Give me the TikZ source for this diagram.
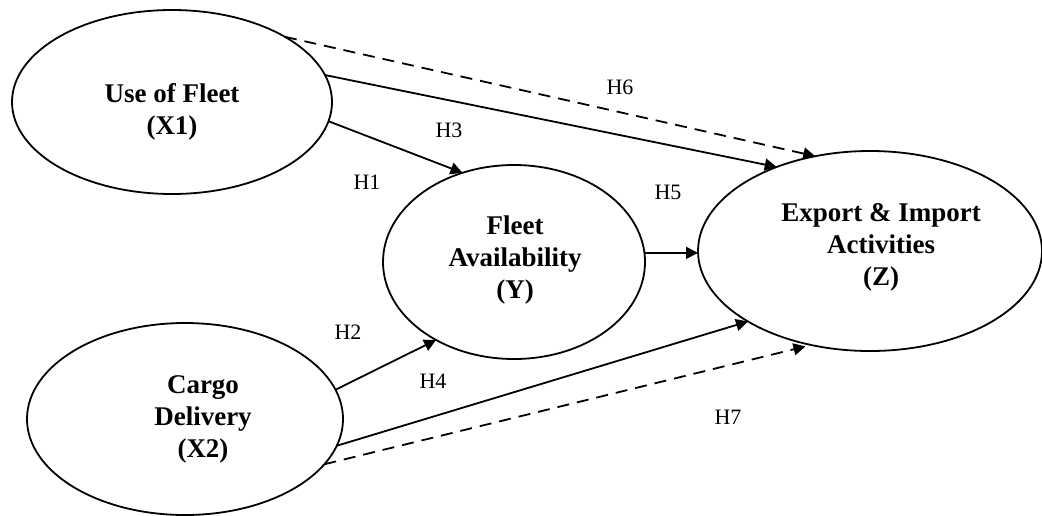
\documentclass[tikz,border=0pt]{standalone}
\usepackage{fontspec}
\setmainfont{Liberation Serif}
\usepackage{tikz}
\usetikzlibrary{positioning, calc, arrows.meta, shapes.geometric}
\definecolor{Ink}{HTML}{000000}
\definecolor{Paper}{HTML}{FFFFFF}
\tikzset{
    latent/.style={ellipse, draw=Ink, line width=0.9pt, inner sep=0pt, outer sep=0pt},
    varname/.style={align=center, text=Ink, font=\fontsize{13.5}{16}\selectfont\bfseries},
    hyp/.style={text=Ink, inner sep=0pt, font=\fontsize{11}{13}\selectfont},
    path/.style={-{Triangle[length=6pt, width=6pt]}, line width=0.9pt, color=Ink},
    guess/.style={path, dash pattern=on 6pt off 4pt},
}

\begin{document}
\begin{tikzpicture}[x=0.5pt, y=-0.5pt]
            \useasboundingbox[fill=Paper] (0,0) rectangle (1042,515);

            % Costrutti (ellissi)
            \node[latent, minimum width=160pt, minimum height=92pt] (X1) at (172,102) {};
            \node[latent, minimum width=158pt, minimum height=96pt] (X2) at (185,419) {};
            \node[latent, minimum width=131pt, minimum height=97pt] (Y) at (514,262) {};
            \node[latent, minimum width=172pt, minimum height=100pt] (Z) at (870,251) {};

            % Nomi delle variabili
            \node[varname] (X1t) at (172,112) {Use of Fleet\\(X1)};
            \node[varname] (X2t) at (203,419) {Cargo\\Delivery\\(X2)};
            \node[varname] (Yt) at (515,260) {Fleet\\Availability\\(Y)};
            \node[varname] (Zt) at (881,247) {Export \& Import\\Activities\\(Z)};

            % Effetti diretti
            \draw[path] (X1.-7) -- (Y.120);
            \draw[path] (X1.10) -- (Z.138);
            \draw[path] (X2.11) -- (Y.225);
            \draw[path] (X2.-10) -- (Z.210);
            \draw[path] (Y.4) -- (Y.4 -| Z.west);

            % Effetti indiretti (tratteggiati)
            \draw[guess] (X1.30) -- (Z.120);
            \draw[guess, shorten >=3pt] (X2.-18) -- (Z.238);

            % Ipotesi
            \node[hyp] (h1) at (367,182) {H1};
            \node[hyp] (h2) at (348,332) {H2};
            \node[hyp] (h3) at (449,130) {H3};
            \node[hyp] (h4) at (433,381) {H4};
            \node[hyp] (h5) at (668,192) {H5};
            \node[hyp] (h6) at (620,87) {H6};
            \node[hyp] (h7) at (728,417) {H7};

        \end{tikzpicture}
\end{document}
